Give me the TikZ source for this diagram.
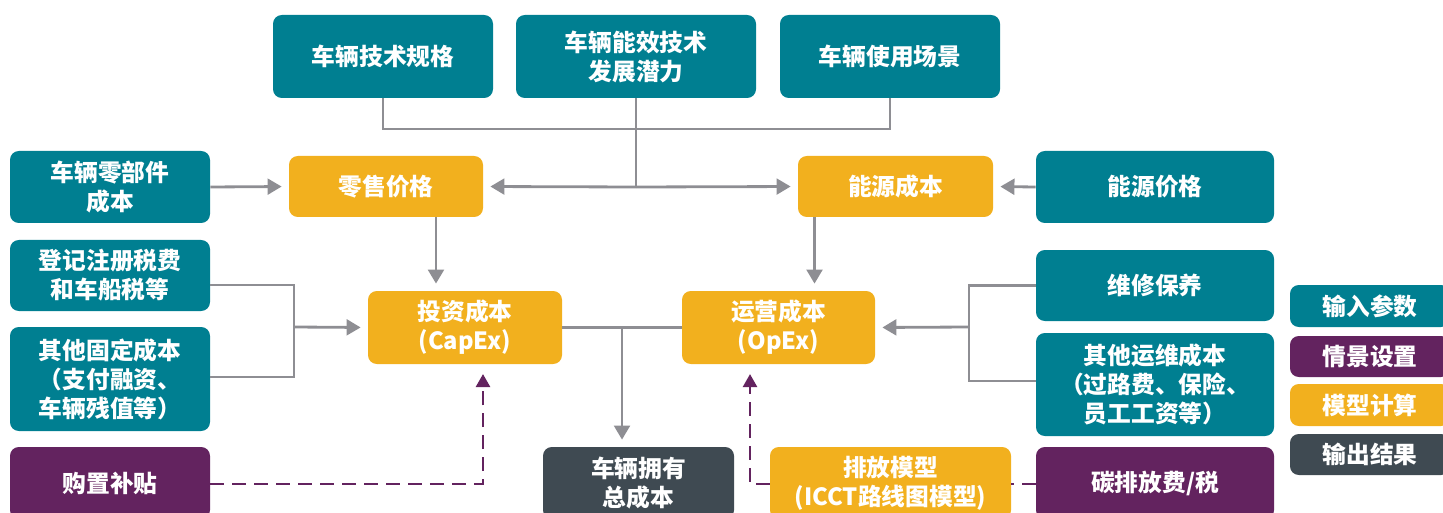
\documentclass[tikz,border=0pt]{standalone}
\usepackage{fontspec}
\setmainfont{Noto Sans CJK SC}
\usetikzlibrary{arrows.meta}
\definecolor{inputc}{HTML}{007F91}
\definecolor{scenc}{HTML}{63235F}
\definecolor{calcc}{HTML}{F2B01E}
\definecolor{outc}{HTML}{3F4A52}
\definecolor{linec}{HTML}{8E8E93}
\begin{document}
\begin{tikzpicture}[x=0.02cm,y=-0.02cm,
  box/.style 2 args={rounded corners=5pt, inner sep=0pt, text=white, align=center,
    font=\fontsize{13.5pt}{16.5pt}\selectfont\bfseries,
    minimum width=#1*0.02cm, minimum height=#2*0.02cm},
  inbox/.style={fill=inputc},
  scenbox/.style={fill=scenc},
  calcbox/.style={fill=calcc},
  outbox/.style={fill=outc},
  link/.style={draw=linec, line width=1.6pt},
  flow/.style={link, -{Triangle[width=9pt,length=8pt]}, shorten >=4pt},
  scenlink/.style={draw=scenc, line width=1.6pt, dash pattern=on 8pt off 4.5pt},
  scenflow/.style={scenlink, -{Triangle[width=8pt,length=7.5pt]}, shorten >=5.5pt}]
\useasboundingbox (0,0) rectangle (1443,513);
\clip (0,0) rectangle (1443,513);
%obere reihe
\node[box={220}{83}, inbox] (spec) at (383,56.5) {车辆技术规格};
\node[box={240}{83}, inbox] (eff) at (636,56.5) {车辆能效技术\\发展潜力};
\node[box={220}{83}, inbox] (usage) at (890,56.5) {车辆使用场景};
%preise
\node[box={200}{72}, inbox] (parts) at (110,187) {车辆零部件\\成本};
\node[box={194}{61}, calcbox] (retail) at (386,186.5) {零售价格};
\node[box={195}{61}, calcbox] (energy) at (895.5,186.5) {能源成本};
\node[box={238}{72}, inbox] (eprice) at (1155,187) {能源价格};
%kosten
\node[box={200}{71}, inbox] (reg) at (110,275.5) {登记注册税费\\和车船税等};
\node[box={200}{104}, inbox] (fixed) at (110,379) {其他固定成本\\（支付融资、\\车辆残值等）};
\node[box={194}{73}, calcbox] (capex) at (465,327.5) {投资成本\\(CapEx)};
\node[box={193}{73}, calcbox] (opex) at (778.5,327.5) {运营成本\\(OpEx)};
\node[box={238}{71}, inbox] (maint) at (1155,285.5) {维修保养};
\node[box={238}{103}, inbox] (other) at (1155,384.5) {其他运维成本\\（过路费、保险、\\员工工资等）};
%untere reihe
\node[box={200}{72}, scenbox] (subsidy) at (110,483) {购置补贴};
\node[box={191}{72}, outbox] (tco) at (638.5,483) {车辆拥有\\总成本};
\node[box={241}{72}, calcbox] (emis) at (890.5,483) {排放模型\\(ICCT路线图模型)};
\node[box={238}{72}, scenbox] (carbon) at (1155,483) {碳排放费/税};
%legende
\node[box={160}{42}, inbox] (lgin) at (1370,306) {输入参数};
\node[box={160}{41}, scenbox] (lgscen) at (1370,356.5) {情景设置};
\node[box={160}{42}, calcbox] (lgcalc) at (1370,405) {模型计算};
\node[box={160}{41}, outbox] (lgout) at (1370,454.5) {输出结果};
%verbindungen oben
\coordinate (hub) at (636,129);
\coordinate (split) at (636,187);
\draw[link] (spec.south) |- (hub) -| (usage.south);
\draw[link] (eff.south) -- (split);
\draw[flow] (split) -- (retail.east);
\draw[flow] (split) -- (energy.west);
\draw[flow] (parts.east) -- (retail.west);
\draw[flow] (eprice.west) -- (energy.east);
\draw[flow] ([xshift=1cm]retail.south) -- ([xshift=1cm]retail.south |- capex.north);
\draw[flow] ([xshift=-1.62cm]energy.south) -- ([xshift=-1.62cm]energy.south |- opex.north);
%klammern
\coordinate (lj) at (294,327);
\coordinate (rj) at (969,327);
\draw[link] ([yshift=-0.19cm]reg.east) -| (lj) |- ([yshift=0.04cm]fixed.east);
\draw[flow] (lj) -- (capex.west);
\draw[link] (maint.west) -| (rj) |- ([yshift=0.07cm]other.west);
\draw[flow] (rj) -- (opex.east);
%tco
\coordinate (tj) at (622,327);
\draw[link] (capex.east) -- (opex.west);
\draw[flow] (tj) -- (tj |- tco.north);
%szenarien
\draw[scenflow] ([yshift=-0.02cm]subsidy.east) -| ([xshift=0.36cm]capex.south);
\draw[scenlink] ([yshift=-0.02cm]carbon.west) -- ([yshift=-0.02cm]emis.east);
\draw[scenflow] ([yshift=-0.02cm]emis.west) -| ([xshift=-0.57cm]opex.south);
\end{tikzpicture}
\end{document}
